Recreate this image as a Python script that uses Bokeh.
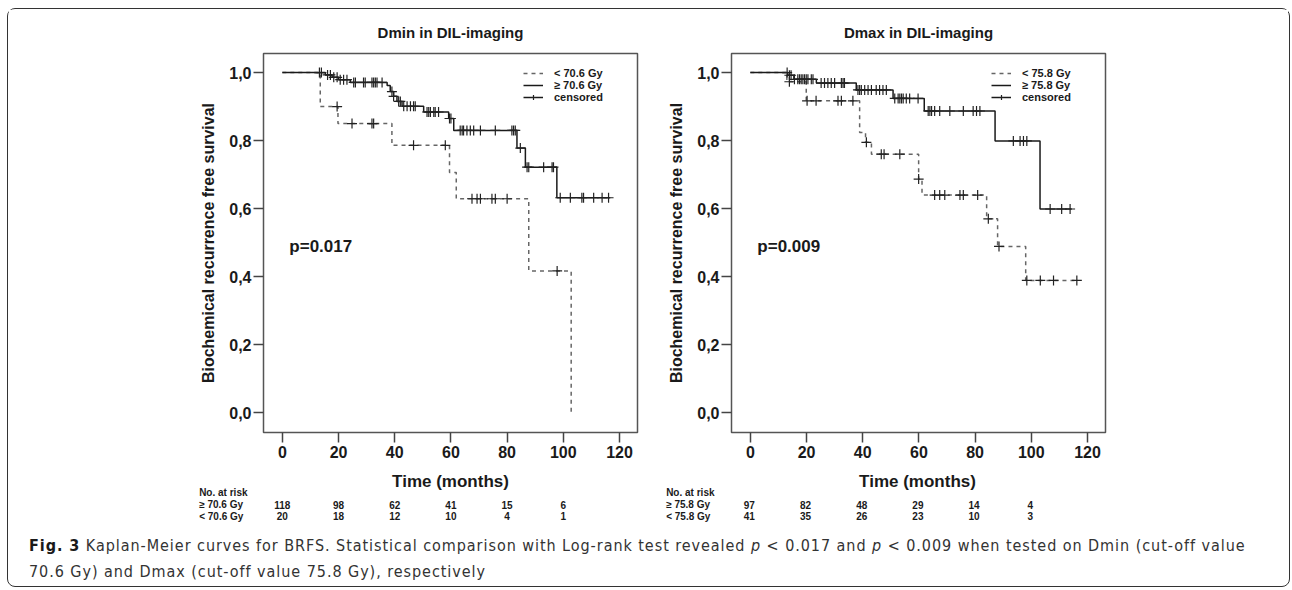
import numpy as np
from bokeh.plotting import figure
from bokeh.models import (ColumnDataSource, Legend, LegendItem, Label, LabelSet,
                          FixedTicker, CustomJSTickFormatter, Div, Range1d)
from bokeh.core.properties import value
from bokeh.layouts import row, column
from bokeh.embed import file_html
from bokeh.resources import INLINE

# ---------------- data ----------------
month_ticks = [0, 20, 40, 60, 80, 100, 120]
surv_ticks = [0.0, 0.2, 0.4, 0.6, 0.8, 1.0]
risk_times = [0, 20, 40, 60, 80, 100]

# Dmin panel, >= 70.6 Gy (solid)
dmin_hi_t = [0, 15.3, 17.7, 20.0, 24.2, 37.3, 38.4, 39.6, 40.8, 42.6, 50.3, 59.2, 61.0, 83.5, 86.5, 97.7, 116.7]
dmin_hi_s = [1.0, 0.993, 0.986, 0.979, 0.971, 0.962, 0.944, 0.930, 0.915, 0.901, 0.884, 0.865, 0.830, 0.778, 0.722, 0.632, 0.632]
dmin_hi_cens = [13.2, 13.9, 16.1, 17.1, 18.3, 19.5, 20.6, 21.8, 23.0, 25.4, 26.0, 28.9, 29.5, 31.9, 32.5,
                33.1, 33.7, 35.5, 39.0, 39.6, 41.4, 42.0, 43.2, 44.4, 45.6, 46.7, 47.3, 51.5, 52.1, 52.7,
                53.9, 54.4, 55.6, 59.5, 60.0, 63.3, 64.0, 64.5, 65.7, 66.9, 68.1, 70.5, 75.8, 81.7, 82.3,
                82.9, 84.7, 87.1, 87.7, 93.0, 96.0, 96.5, 98.9, 102.5, 106.6, 107.2, 110.8, 113.8, 116.1]
# Dmin panel, < 70.6 Gy (dashed)
dmin_lo_t = [0, 13.5, 19.8, 39.0, 59.5, 61.9, 87.7, 102.8]
dmin_lo_s = [1.0, 0.90, 0.85, 0.786, 0.706, 0.629, 0.417, 0.0]
dmin_lo_cens = [19.5, 24.8, 31.9, 32.5, 46.7, 58.0, 67.5, 69.3, 70.5, 74.6, 75.8, 80.0, 97.8]

# Dmax panel, >= 75.8 Gy (solid)
dmax_hi_t = [0, 13.3, 15.5, 23.5, 37.7, 50.8, 61.9, 87.1, 103.1, 114.4]
dmax_hi_s = [1.0, 0.992, 0.980, 0.969, 0.949, 0.924, 0.887, 0.799, 0.599, 0.599]
dmax_hi_cens = [13.1, 13.9, 14.5, 15.7, 16.9, 17.5, 18.1, 18.7, 19.3, 19.9, 20.5, 21.7, 22.3, 25.2, 26.4,
                27.6, 28.8, 30.0, 32.4, 33.0, 33.5, 38.3, 38.9, 39.5, 40.7, 41.9, 43.1, 44.8, 46.0, 47.2,
                48.4, 51.4, 52.6, 53.2, 53.8, 54.4, 55.5, 56.7, 59.7, 63.3, 63.9, 64.5, 65.6, 67.4, 71.0,
                75.8, 79.3, 80.5, 81.7, 93.6, 96.0, 97.2, 98.4, 106.7, 110.8, 113.8]
# Dmax panel, < 75.8 Gy (dashed)
dmax_lo_t = [0, 13.0, 19.9, 38.9, 41.0, 43.1, 59.9, 61.1, 84.1, 88.0, 98.0, 116.2]
dmax_lo_s = [1.0, 0.973, 0.917, 0.824, 0.795, 0.760, 0.687, 0.640, 0.570, 0.489, 0.389, 0.389]
dmax_lo_cens = [13.9, 20.2, 23.4, 31.2, 32.4, 36.5, 41.3, 46.6, 47.6, 53.2, 59.9, 65.6, 67.4, 69.2,
                74.6, 75.8, 80.9, 84.7, 88.5, 98.4, 103.2, 107.9, 116.2]

dmin_risk_hi = [118, 98, 62, 41, 15, 6]
dmin_risk_lo = [20, 18, 12, 10, 4, 1]
dmax_risk_hi = [97, 82, 48, 29, 14, 4]
dmax_risk_lo = [41, 35, 26, 23, 10, 3]

FONT = "Liberation Sans"
INK = "#1a1a1a"
X_START, X_END = -6.7, 126.4
PX_PER_MONTH = 374 / (X_END - X_START)


def step_at(tt, ss, c):
    idx = np.searchsorted(np.asarray(tt), np.asarray(c), side="right") - 1
    return np.asarray(ss)[idx]


def make_panel(title, hi_t, hi_s, hi_c, lo_t, lo_s, lo_c, hi_lab, lo_lab,
               risk_hi, risk_lo, ptext, mb_left, mb_right, risk_left, risk_width):
    p = figure(title=title, frame_width=374, frame_height=379,
               min_border_left=mb_left, min_border_right=mb_right,
               min_border_top=44, min_border_bottom=35,
               x_range=Range1d(X_START, X_END), y_range=Range1d(-0.058, 1.056),
               output_backend="svg", toolbar_location=None)
    p.title.align = "center"
    p.title.text_font = FONT
    p.title.text_font_size = "15px"
    p.title.text_font_style = "bold"
    p.title.text_color = INK
    p.title.standoff = 25

    p.grid.visible = False
    p.outline_line_color = "#555555"
    p.outline_line_width = 1.5
    p.background_fill_color = "white"
    p.border_fill_color = "white"

    for ax in (p.xaxis[0], p.yaxis[0]):
        ax.axis_line_color = None
        ax.major_tick_in = 0
        ax.major_tick_out = 10
        ax.minor_tick_line_color = None
        ax.major_tick_line_color = "#444444"
        ax.major_tick_line_width = 1.5
        ax.major_label_text_font = FONT
        ax.major_label_text_font_style = "bold"
        ax.major_label_text_font_size = "16px"
        ax.major_label_text_color = INK
        ax.axis_label_text_font = FONT
        ax.axis_label_text_font_style = "bold"
        ax.axis_label_text_font_size = "16px"
        ax.axis_label_text_color = INK

    p.xaxis.ticker = FixedTicker(ticks=month_ticks)
    p.xaxis.major_label_standoff = 3

    p.yaxis.ticker = FixedTicker(ticks=surv_ticks)
    p.yaxis.formatter = CustomJSTickFormatter(code="return tick.toFixed(1).replace('.', ',');")
    p.yaxis.axis_label = "Biochemical recurrence free survival"
    p.yaxis.major_label_standoff = 2
    p.yaxis.axis_label_standoff = 9

    r_lo = p.step(x=lo_t, y=lo_s, mode="after", line_color="#666666",
                  line_width=1.5, line_dash="4 4")
    r_hi = p.step(x=hi_t, y=hi_s, mode="after", line_color=INK, line_width=1.5)

    cx = list(hi_c) + list(lo_c)
    cy = list(step_at(hi_t, hi_s, hi_c)) + list(step_at(lo_t, lo_s, lo_c))
    r_c = p.scatter(x=cx, y=cy, marker="cross", size=10, line_color="#222222",
                    line_width=1.2)

    legend = Legend(items=[LegendItem(label=lo_lab, renderers=[r_lo]),
                           LegendItem(label=hi_lab, renderers=[r_hi]),
                           LegendItem(label="censored", renderers=[r_hi, r_c])],
                    location=(260, 329), padding=0, margin=0, spacing=0,
                    label_height=12, glyph_height=12, glyph_width=20,
                    label_standoff=11, border_line_color=None,
                    background_fill_alpha=0, label_text_font=FONT,
                    label_text_font_size="11px", label_text_font_style="bold",
                    label_text_color=INK)
    p.add_layout(legend)

    p.add_layout(Label(x=2.5, y=0.49, text=ptext, text_font=FONT, text_font_size="17px",
                       text_font_style="bold", text_color=INK,
                       text_align="left", text_baseline="middle"))

    # ---- strip below: axis title + number-at-risk table, same month scale ----
    total_w = mb_left + 374 + mb_right
    r = figure(width=total_w, height=56, frame_width=risk_width, frame_height=56,
               min_border_left=risk_left, min_border_right=total_w - risk_left - risk_width,
               min_border_top=0, min_border_bottom=0,
               x_range=Range1d(X_END - risk_width / PX_PER_MONTH, X_END),
               y_range=Range1d(-0.3244, -0.1597),
               x_axis_type=None, y_axis_type=None,
               output_backend="svg", toolbar_location=None)
    r.grid.visible = False
    r.outline_line_color = None
    r.background_fill_color = "white"
    r.border_fill_color = "white"

    r.add_layout(Label(x=(X_END + X_START) / 2, y=-0.201, text="Time (months)", text_font=FONT,
                       text_font_size="17px", text_font_style="bold", text_color=INK,
                       text_align="center", text_baseline="middle"))

    y_head, y_hi, y_lo = -0.232, -0.269, -0.303
    x_lab = -29.6
    rs = ColumnDataSource(dict(
        x=list(risk_times) * 2,
        y=[y_hi] * len(risk_times) + [y_lo] * len(risk_times),
        text=[str(v) for v in risk_hi] + [str(v) for v in risk_lo]))
    r.add_layout(LabelSet(x="x", y="y", text="text", source=rs, text_font=value(FONT),
                          text_font_size=value("10px"), text_font_style=value("bold"),
                          text_color=value(INK), text_align=value("center"),
                          text_baseline=value("middle")))
    for yy, tx in ((y_head, "No. at risk"), (y_hi, hi_lab), (y_lo, lo_lab)):
        r.add_layout(Label(x=x_lab, y=yy, text=tx, text_font=FONT, text_font_size="10px",
                           text_font_style="bold", text_color=INK,
                           text_align="left", text_baseline="middle"))
    return column(p, row(r))


c1 = make_panel("Dmin in DIL-imaging", dmin_hi_t, dmin_hi_s, dmin_hi_cens,
                dmin_lo_t, dmin_lo_s, dmin_lo_cens, "≥ 70.6 Gy", "< 70.6 Gy",
                dmin_risk_hi, dmin_risk_lo, "p=0.017", 255, 23, 182, 447)
c2 = make_panel("Dmax in DIL-imaging", dmax_hi_t, dmax_hi_s, dmax_hi_cens,
                dmax_lo_t, dmax_lo_s, dmax_lo_cens, "≥ 75.8 Gy", "< 75.8 Gy",
                dmax_risk_hi, dmax_risk_lo, "p=0.009", 71, 183, 0, 444)

caption = Div(
    text=('<div style="padding:5px 0 0 16px;">'
          '<b style="color:#1a1a1a">Fig. 3</b> Kaplan-Meier curves for BRFS. Statistical comparison '
          'with Log-rank test revealed <i>p</i> &lt; 0.017 and <i>p</i> &lt; 0.009 when tested on '
          'Dmin (cut-off value<br>70.6 Gy) and Dmax (cut-off value 75.8 Gy), respectively</div>'),
    width=1278, height=62,
    styles={"font-family": "'Liberation Sans Narrow', 'DejaVu Sans Condensed', sans-serif",
            "font-size": "16px", "letter-spacing": "0.95px", "line-height": "26px",
            "color": "#333333"})

layout = column(row(c1, c2), caption, margin=(8, 0, 0, 7), width=1281, height=577,
                styles={"border": "1.5px solid #333333", "border-radius": "8px",
                        "background": "white", "box-sizing": "content-box"})

open("out.html", "w").write(file_html(layout, INLINE))
